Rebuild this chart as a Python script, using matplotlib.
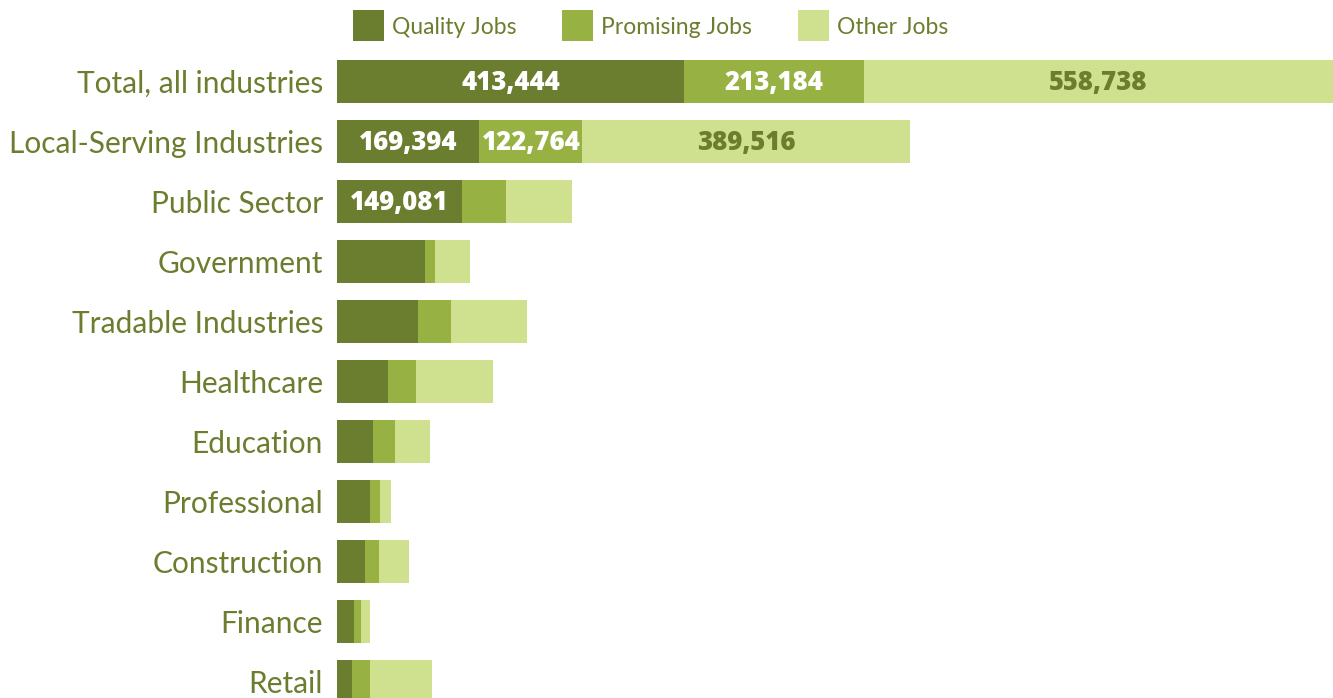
import matplotlib
matplotlib.use("Agg")
import matplotlib.pyplot as plt
from matplotlib.patches import Rectangle

# ─────────────────────────────────────────────────────────────
# DATA (jobs by industry)
# ─────────────────────────────────────────────────────────────
categories = [
    "Total, all industries", "Local-Serving Industries", "Public Sector",
    "Government", "Tradable Industries", "Healthcare", "Education",
    "Professional", "Construction", "Finance", "Retail",
]
quality_jobs = [413444, 169394, 149081, 104700, 96000, 60700, 42800, 39300, 33300, 20200, 17900]
promising_jobs = [213184, 122764, 52400, 11900, 39300, 33300, 26200, 11900, 16700, 8300, 21400]
other_jobs = [558738, 389516, 78500, 41700, 90400, 91600, 41700, 13100, 35700, 10700, 73800]

# only the top rows carry value labels
labeled_rows = {
    "quality": [0, 1, 2],
    "promising": [0, 1],
    "other": [0, 1],
}

series_names = ["Quality Jobs", "Promising Jobs", "Other Jobs"]
COLORS = ["#6b7d2e", "#97b243", "#cfe08e"]
TEXT_COLOR = "#6b7d2e"

W, H = 1333, 698
fig = plt.figure(figsize=(W / 100, H / 100), dpi=100)
fig.patch.set_facecolor("white")

# axes: bars start at x=337 px, rows at 60 px pitch, first row top at 60 px
ax = fig.add_axes([337 / W, 0, (W - 337) / W, 638 / H])
ax.set_facecolor("white")

y = list(range(len(categories)))
bar_h = 43 / 60
left2 = [q + p for q, p in zip(quality_jobs, promising_jobs)]

ax.barh(y, quality_jobs, height=bar_h, color=COLORS[0], linewidth=0)
ax.barh(y, promising_jobs, left=quality_jobs, height=bar_h, color=COLORS[1], linewidth=0)
ax.barh(y, other_jobs, left=left2, height=bar_h, color=COLORS[2], linewidth=0)

total0 = quality_jobs[0] + promising_jobs[0] + other_jobs[0]
ax.set_xlim(0, total0)
ax.set_ylim((698 - 81.5) / 60, (60 - 81.5) / 60)

# value labels sit on the baseline, nudged down so the digits look centred
value_font = dict(family=["Open Sans", "DejaVu Sans"], fontweight="heavy", fontsize=18.5)
base_off = 0.15
for i in labeled_rows["quality"]:
    ax.text(quality_jobs[i] / 2, i + base_off, f"{quality_jobs[i]:,}", ha="center",
            va="baseline", color="white", **value_font)
for i in labeled_rows["promising"]:
    ax.text(quality_jobs[i] + promising_jobs[i] / 2, i + base_off, f"{promising_jobs[i]:,}",
            ha="center", va="baseline", color="white", **value_font)
for i in labeled_rows["other"]:
    ax.text(left2[i] + other_jobs[i] / 2, i + base_off, f"{other_jobs[i]:,}",
            ha="center", va="baseline", color=TEXT_COLOR, **value_font)

ax.set_yticks(y)
ax.set_yticklabels(categories, family=["Lato", "DejaVu Sans"], fontsize=21.5,
                   color=TEXT_COLOR)
ax.tick_params(axis="y", length=0, pad=10)
ax.set_xticks([])
for s in ax.spines.values():
    s.set_visible(False)

# legend drawn by hand along the top
legend_x = [353, 562, 798]
for name, col, lx in zip(series_names, COLORS, legend_x):
    fig.patches.append(Rectangle((lx / W, 1 - 41 / H), 31 / W, 31 / H,
                                 transform=fig.transFigure, color=col, linewidth=0))
    fig.text((lx + 39) / W, 1 - 27 / H, name, ha="left", va="center",
             family=["Lato", "DejaVu Sans"], fontsize=16.5, color=TEXT_COLOR)

fig.savefig("out.png", dpi=100, facecolor="white")
plt.close(fig)
